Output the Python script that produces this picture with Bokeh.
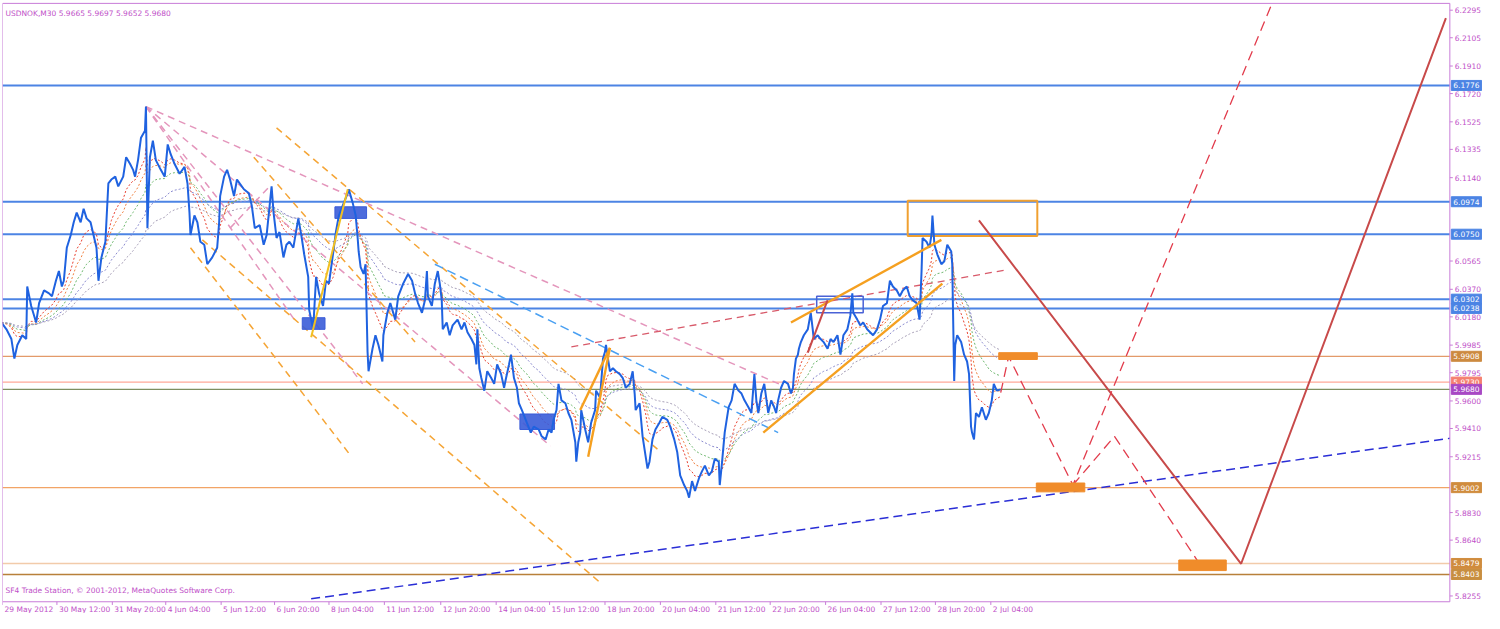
from bokeh.plotting import figure
from bokeh.models import Label, Range1d
from bokeh.embed import file_html
from bokeh.resources import INLINE
from bokeh.core.properties import value

# ---------------- data ----------------
bar_x = [2, 7, 12, 15, 18, 23, 27, 28, 32, 37, 40, 45, 50, 53, 57, 60, 63, 65, 68, 72,
         75, 78, 82, 85, 88, 92, 95, 98, 100, 103, 107, 110, 113, 117, 120, 125, 128, 132, 135, 137,
         140, 143, 147, 148, 149.5, 152, 155, 158, 163, 167, 170, 173, 177, 182, 187, 190, 192, 193, 197, 200,
         203, 207, 210, 215, 220, 222, 223, 227, 230, 233, 237, 240, 247, 252, 255, 258, 263, 267, 270, 273,
         275, 277, 280, 283, 287, 290, 293, 297, 302, 305, 308, 312, 313, 317, 320, 323, 327, 330, 333, 337,
         340, 343, 348, 352, 353, 357, 360, 362, 363, 365, 368, 370, 372, 373, 377, 380, 383, 387, 388, 392,
         395, 400, 403, 408, 413, 417, 420, 423, 427, 430, 432, 433, 437, 440, 443, 445, 447, 448, 452, 455,
         458, 463, 467, 470, 473, 477, 480, 482, 483, 485, 487, 490, 493, 497, 500, 503, 507, 510, 512, 515,
         517, 520, 523, 525, 528, 533, 537, 540, 545, 548, 552, 555, 558, 560, 563, 565, 568, 572, 575, 578,
         582, 583, 585, 587, 588, 592, 595, 598, 602, 603, 607, 610, 612, 613, 615, 617, 620, 623, 627, 630,
         633, 637, 640, 642, 643, 647, 650, 653, 655, 657, 660, 663, 667, 670, 675, 678, 682, 685, 688, 692,
         695, 697, 700, 703, 707, 710, 713, 717, 720, 723, 727, 728, 730, 733, 737, 740, 743, 747, 750, 753,
         757, 760, 763, 765, 767, 770, 773, 777, 780, 783, 785, 787, 790, 793, 797, 800, 802, 803, 805, 807,
         808, 810, 813, 817, 820, 822, 823, 827, 830, 833, 837, 840, 843, 847, 850, 852, 853, 857, 860, 862,
         863, 867, 870, 873, 877, 880, 883, 887, 890, 893, 897, 900, 903, 907, 910, 913, 917, 920, 923, 927,
         930, 932, 933, 937, 940, 942, 943, 945, 948, 952, 955, 958, 962, 963, 965, 966, 968, 972, 975, 978,
         980, 982, 983, 985, 987, 990, 993, 997, 1000, 1003, 1005, 1008, 1012]
close = [6.0141, 6.0094, 6.0027, 5.9892, 5.9986, 6.0053, 6.0027, 6.0389, 6.0255, 6.0141, 6.0275, 6.0362, 6.0342, 6.0322, 6.0429, 6.0496, 6.0389, 6.0429, 6.0657, 6.0745,
         6.0832, 6.0899, 6.0832, 6.0926, 6.0859, 6.0832, 6.0745, 6.0657, 6.0429, 6.0590, 6.0698, 6.1100, 6.1127, 6.1147, 6.1080, 6.1147, 6.1281, 6.1234, 6.1194, 6.1147,
         6.1261, 6.1416, 6.1463, 6.1630, 6.0792, 6.1281, 6.1395, 6.1261, 6.1194, 6.1147, 6.1369, 6.1302, 6.1234, 6.1167, 6.1214, 6.1100, 6.0899, 6.0745, 6.0879, 6.0832,
         6.0698, 6.0677, 6.0543, 6.0590, 6.0657, 6.0832, 6.1013, 6.1147, 6.1194, 6.1127, 6.1013, 6.1127, 6.1060, 6.1033, 6.0946, 6.0792, 6.0812, 6.0677, 6.0745, 6.0946,
         6.1080, 6.0899, 6.0724, 6.0765, 6.0590, 6.0677, 6.0698, 6.0657, 6.0859, 6.0745, 6.0610, 6.0456, 6.0228, 6.0094, 6.0456, 6.0342, 6.0255, 6.0429, 6.0409, 6.0610,
         6.0765, 6.0879, 6.0966, 6.1033, 6.1060, 6.0966, 6.0879, 6.0724, 6.0631, 6.0523, 6.0476, 6.0543, 5.9939, 5.9805, 5.9960, 6.0053, 5.9986, 5.9872, 6.0053, 6.0208,
         6.0275, 6.0161, 6.0322, 6.0409, 6.0476, 6.0429, 6.0342, 6.0275, 6.0208, 6.0295, 6.0496, 6.0322, 6.0255, 6.0409, 6.0496, 6.0409, 6.0295, 6.0094, 6.0141, 6.0053,
         6.0121, 6.0161, 6.0094, 6.0141, 6.0074, 6.0027, 5.9986, 5.9852, 6.0094, 5.9825, 5.9758, 5.9671, 5.9805, 5.9758, 5.9718, 5.9852, 5.9785, 5.9691, 5.9758, 5.9852,
         5.9919, 5.9758, 5.9691, 5.9584, 5.9537, 5.9450, 5.9382, 5.9423, 5.9403, 5.9356, 5.9335, 5.9403, 5.9382, 5.9470, 5.9537, 5.9718, 5.9604, 5.9584, 5.9517, 5.9470,
         5.9315, 5.9181, 5.9315, 5.9382, 5.9537, 5.9403, 5.9315, 5.9450, 5.9537, 5.9671, 5.9624, 5.9892, 5.9939, 5.9986, 5.9892, 5.9805, 5.9825, 5.9805, 5.9785, 5.9758,
         5.9691, 5.9718, 5.9805, 5.9651, 5.9537, 5.9584, 5.9356, 5.9221, 5.9134, 5.9181, 5.9335, 5.9403, 5.9450, 5.9490, 5.9470, 5.9423, 5.9335, 5.9248, 5.9087, 5.9020,
         5.8980, 5.8933, 5.9047, 5.8980, 5.9067, 5.9114, 5.9154, 5.9087, 5.9114, 5.9201, 5.9181, 5.9020, 5.9154, 5.9382, 5.9557, 5.9604, 5.9718, 5.9671, 5.9651, 5.9604,
         5.9557, 5.9517, 5.9785, 5.9604, 5.9517, 5.9651, 5.9718, 5.9517, 5.9604, 5.9557, 5.9517, 5.9604, 5.9691, 5.9738, 5.9718, 5.9651, 5.9691, 5.9785, 5.9892, 5.9919,
         5.9960, 6.0006, 6.0053, 6.0094, 6.0208, 6.0094, 6.0027, 6.0053, 6.0027, 6.0006, 5.9960, 6.0027, 6.0006, 6.0053, 5.9919, 6.0006, 6.0053, 6.0094, 6.0188, 6.0342,
         6.0208, 6.0161, 6.0121, 6.0141, 6.0094, 6.0074, 6.0053, 6.0094, 6.0161, 6.0255, 6.0275, 6.0429, 6.0389, 6.0362, 6.0322, 6.0362, 6.0389, 6.0322, 6.0295, 6.0275,
         6.0161, 6.0496, 6.0724, 6.0698, 6.0657, 6.0745, 6.0879, 6.0677, 6.0610, 6.0543, 6.0563, 6.0677, 6.0631, 6.0543, 5.9738, 5.9986, 6.0053, 6.0006, 5.9919, 5.9872,
         5.9785, 5.9423, 5.9382, 5.9335, 5.9517, 5.9490, 5.9557, 5.9470, 5.9517, 5.9604, 5.9718, 5.9671, 5.9680]

tick_bars = [3, 58, 114, 168, 224, 278, 333, 389, 446, 502, 556, 612, 668, 724, 779, 835, 891, 946, 1002]
tick_labels = ["29 May 2012", "30 May 12:00", "31 May 20:00", "4 Jun 04:00", "5 Jun 12:00",
               "6 Jun 20:00", "8 Jun 04:00", "11 Jun 12:00", "12 Jun 20:00", "14 Jun 04:00",
               "15 Jun 12:00", "18 Jun 20:00", "20 Jun 04:00", "21 Jun 12:00", "22 Jun 20:00",
               "26 Jun 04:00", "27 Jun 12:00", "28 Jun 20:00", "2 Jul 04:00"]
price_ticks = [6.2295, 6.2105, 6.1910, 6.1720, 6.1525, 6.1335, 6.1140, 6.0565, 6.0370,
               6.0180, 5.9985, 5.9795, 5.9600, 5.9410, 5.9215, 5.8830, 5.8640, 5.8255]
price_tick_labels = ["%.4f" % v for v in price_ticks]

level_prices = [6.1776, 6.0974, 6.0750, 6.0302, 6.0238, 5.9908, 5.9730, 5.9680, 5.9002, 5.8479, 5.8403]
level_line_colors = ["#4C84E4", "#4C84E4", "#4C84E4", "#4C84E4", "#4C84E4", "#E39A6A",
                     "#FFA898", "#7E8E60", "#F2A466", "#F2CBAA", "#B8803A"]
level_box_colors = ["#4C84E4", "#4C84E4", "#4C84E4", "#4C84E4", "#4C84E4", "#CD8A40",
                    "#F58070", "#A848C4", "#D08C3E", "#D08C3E", "#C88E40"]

# pink dashed fan from the 31 May high
fan_x0 = [148, 148, 148, 148, 233]
fan_p0 = [6.1630, 6.1630, 6.1630, 6.1630, 6.0792]
fan_x1 = [790, 557, 367, 300, 273]
fan_p1 = [5.9711, 5.9289, 5.9718, 6.0141, 6.1080]
# orange dashed channel lines
och_x0 = [280, 193, 205, 257]
och_p0 = [6.1483, 6.0657, 6.0711, 6.1281]
och_x1 = [665, 355, 608, 420]
och_p1 = [5.9268, 5.9222, 5.8342, 6.0007]
# solid orange trend lines
otl_x0 = [595, 587, 800, 772]
otl_p0 = [5.9215, 5.9537, 6.0141, 5.9382]
otl_x1 = [617, 617, 952, 953]
otl_p1 = [5.9966, 5.9966, 6.0711, 6.0409]
# projection paths
red_path_x = [990, 1255, 1462]
red_path_p = [6.0845, 5.8477, 6.2241]
projA_x = [1012, 1020, 1085, 1285]
projA_p = [5.9658, 5.9906, 5.9020, 6.2321]
projB_x = [1085, 1127, 1213]
projB_p = [5.9020, 5.9356, 5.8477]

# rectangles: left, right, top, bottom
blue_box_l = [306, 339, 526]
blue_box_r = [329, 371, 561]
blue_box_t = [6.0174, 6.0939, 5.9510]
blue_box_b = [6.0094, 6.0859, 5.9403]
orange_box_l = [1010, 1048, 1192]
orange_box_r = [1049, 1097, 1240]
orange_box_t = [5.9933, 5.9034, 5.8503]
orange_box_b = [5.9886, 5.8973, 5.8430]

# chart window: time axis from bar 3 to 1466, price scale column to the right
X0, X1, XEND = 3, 1466, 1499
P_TOP, P_BOT = 6.2342, 5.8215

FONT = "DejaVu Sans"
AXC = "#C87CD8"
TXC = "#C050C8"
FS = "7.5px"

p = figure(frame_width=1480, frame_height=612, output_backend="svg", toolbar_location=None,
           x_range=Range1d(X0, XEND), y_range=Range1d(5.8134, 6.2355),
           x_axis_location=None, y_axis_location=None,
           min_border_left=2, min_border_top=1, min_border_right=0, min_border_bottom=0,
           background_fill_color="white", border_fill_color="white", outline_line_color=None)
p.grid.visible = False

# horizontal levels
for lv, c in zip(level_prices, level_line_colors):
    w = 2 if c == "#4C84E4" else 1.3
    p.line([X0, X1], [lv, lv], line_color=c, line_width=w)

# moving averages derived from the close series
def ema(vals, span):
    a = 2.0 / (span + 1)
    s = vals[0]
    out = []
    for v in vals:
        s = a * v + (1 - a) * s
        out.append(s)
    return out

ma_specs = [(8, "#E84030"), (13, "#F08040"), (21, "#6FB86F"), (33, "#8C8CD0"), (48, "#A8A0B8")]
for span, col in ma_specs:
    p.line(bar_x, ema(close, span), line_color=col, line_width=1, line_dash="2 2")

# drawing objects
p.segment(fan_x0, fan_p0, fan_x1, fan_p1, line_color="#E496BC", line_width=1.5, line_dash="7 5")
p.segment(och_x0, och_p0, och_x1, och_p1, line_color="#F5A536", line_width=1.5, line_dash="7 5")
p.segment([440], [6.0543], [787], [5.9382], line_color="#4AA0F2", line_width=1.5, line_dash="9 5")
p.segment([578], [5.9973], [1017], [6.0503], line_color="#D85A6A", line_width=1.3, line_dash="7 5")
p.segment([315], [5.8235], [X1], [5.9342], line_color="#2A2ED6", line_width=1.5, line_dash="9 5")

# rectangles
p.quad(left=blue_box_l, right=blue_box_r, top=blue_box_t, bottom=blue_box_b,
       fill_color="#3A5CD8", fill_alpha=0.9, line_color="#3A5CD8")
p.quad(left=[918], right=[1049], top=[6.0980], bottom=[6.0738], fill_alpha=0,
       line_color="#F0A030", line_width=2)
p.quad(left=[826], right=[873], top=[6.0322], bottom=[6.0208], fill_alpha=0,
       line_color="#4A62D6", line_width=1.5)

# price
p.line(bar_x, close, line_color="#1F62E0", line_width=2)

# solid trend lines
p.segment(otl_x0, otl_p0, otl_x1, otl_p1, line_color="#F5A020", line_width=2.4)
p.segment([315], [6.0040], [352], [6.1060], line_color="#F2C020", line_width=2)
p.segment([817], [5.9933], [837], [6.0295], line_color="#C84A4A", line_width=2)
p.line(red_path_x, red_path_p, line_color="#C84A4A", line_width=2)
p.line(projA_x, projA_p, line_color="#E23C4C", line_width=1.3, line_dash="10 6")
p.line(projB_x, projB_p, line_color="#E23C4C", line_width=1.3, line_dash="10 6")

p.quad(left=orange_box_l, right=orange_box_r, top=orange_box_t, bottom=orange_box_b,
       fill_color="#F08C2A", line_color="#F08C2A")

# chart window border (terminal style)
p.segment([X0, X0, X0, X1], [P_BOT, P_TOP, P_BOT, P_BOT], [X1, X1, X0, X1], [P_BOT, P_TOP, P_TOP, P_TOP],
          line_color=AXC, line_width=1)

# time scale
p.segment(tick_bars, [P_BOT] * len(tick_bars), tick_bars, [P_BOT - 0.0022] * len(tick_bars),
          line_color=AXC, line_width=1)
p.text(x=[t + 2 for t in tick_bars], y=[P_BOT - 0.0050] * len(tick_bars), text=tick_labels,
       text_color=TXC, text_font=value(FONT), text_font_size=FS,
       text_align="left", text_baseline="middle")

# price scale
p.segment([X1] * len(price_ticks), price_ticks, [X1 + 3] * len(price_ticks), price_ticks,
          line_color=AXC, line_width=1)
p.text(x=[X1 + 5] * len(price_ticks), y=price_ticks, text=price_tick_labels,
       text_color=TXC, text_font=value(FONT), text_font_size=FS,
       text_align="left", text_baseline="middle")

# level boxes on the price scale
for lv, c in zip(level_prices, level_box_colors):
    p.add_layout(Label(x=X1 + 1.5, y=lv, text="%.4f" % lv, text_color="white",
                       text_font=FONT, text_font_size=FS, text_baseline="middle",
                       text_align="left", background_fill_color=c, border_line_color=c,
                       padding=2))

p.add_layout(Label(x=6, y=6.2270, text="USDNOK,M30  5.9665 5.9697 5.9652 5.9680",
                   text_color=TXC, text_font=FONT, text_font_size=FS,
                   text_baseline="middle"))
p.add_layout(Label(x=6, y=5.8290, text="SF4 Trade Station, \u00a9 2001-2012, MetaQuotes Software Corp.",
                   text_color=TXC, text_font=FONT, text_font_size=FS,
                   text_baseline="middle"))

open("out.html", "w").write(file_html(p, INLINE))
